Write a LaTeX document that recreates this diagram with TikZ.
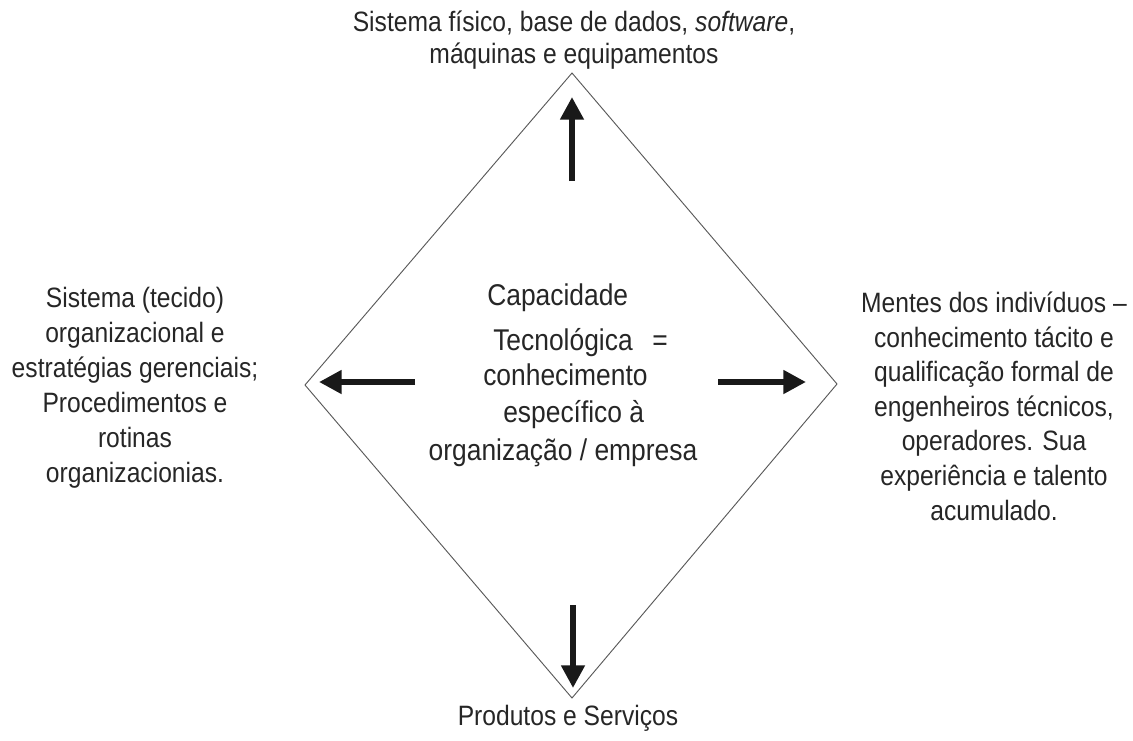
\documentclass[tikz,border=0pt]{standalone}
\usepackage{fontspec}
\setmainfont[FakeStretch=0.88]{Liberation Sans}
\usetikzlibrary{arrows.meta}
\begin{document}
\begin{tikzpicture}[x=0.75pt,y=-0.75pt,
  lbl/.style={font=\fontsize{21}{26.2}\selectfont, text=black!85, inner sep=0pt, align=center},
  core/.style={lbl, font=\fontsize{22.5}{27}\selectfont},
  edge/.style={draw=black!65, line width=0.7pt, line join=miter},
  bigarrow/.style={draw=black!90, line width=5.2pt, -{Triangle[width=17pt,length=17pt]}}]
\useasboundingbox (0,0) rectangle (1133,740);

% corners of the diamond
\coordinate (top) at (572,73);
\coordinate (right) at (837,384);
\coordinate (bottom) at (572,698);
\coordinate (left) at (305,385);
\draw[edge] (top) -- (right) -- (bottom) -- (left) -- cycle;

% arrow ends
\coordinate (upS) at (572,181);   \coordinate (upE) at (572,97);
\coordinate (lfS) at (415,382);   \coordinate (lfE) at (319,382);
\coordinate (rtS) at (718,382);   \coordinate (rtE) at (806,382);
\coordinate (dnS) at (573,605);   \coordinate (dnE) at (573,688);
\draw[bigarrow] (upS) -- (upE);
\draw[bigarrow] (lfS) -- (lfE);
\draw[bigarrow] (rtS) -- (rtE);
\draw[bigarrow] (dnS) -- (dnE);

% central statement
\node[core, anchor=base west] (cap) at (487,305) {Capacidade};
\node[core, anchor=base west] (tec) at (493,350) {Tecnológica};
\node[core, anchor=base west] (eq)  at (652,350) {=};
\node[core, anchor=base west] (con) at (483,385) {conhecimento};
\node[core, anchor=base west] (esp) at (503,422) {específico à};
\node[core, anchor=base]      (org) at (563,460) {organização / empresa};

% outer labels (anchored on the baseline of their last line)
\node[lbl, anchor=base, font=\fontsize{21}{23.3}\selectfont] (physical) at (574,63)
  {Sistema físico, base de dados, \textit{software},\\máquinas e equipamentos};
\node[lbl, anchor=base] (organiz) at (135,482)
  {Sistema (tecido)\\organizacional e\\estratégias gerenciais;\\Procedimentos e\\rotinas\\organizacionias.};
\node[lbl, anchor=base, font=\fontsize{21}{25.9}\selectfont] (minds) at (994,520)
  {Mentes dos indivíduos –\\conhecimento tácito e\\qualificação formal de\\engenheiros técnicos,\\operadores. Sua\\experiência e talento\\acumulado.};
\node[lbl, anchor=base] (products) at (568,725) {Produtos e Serviços};
\end{tikzpicture}
\end{document}
